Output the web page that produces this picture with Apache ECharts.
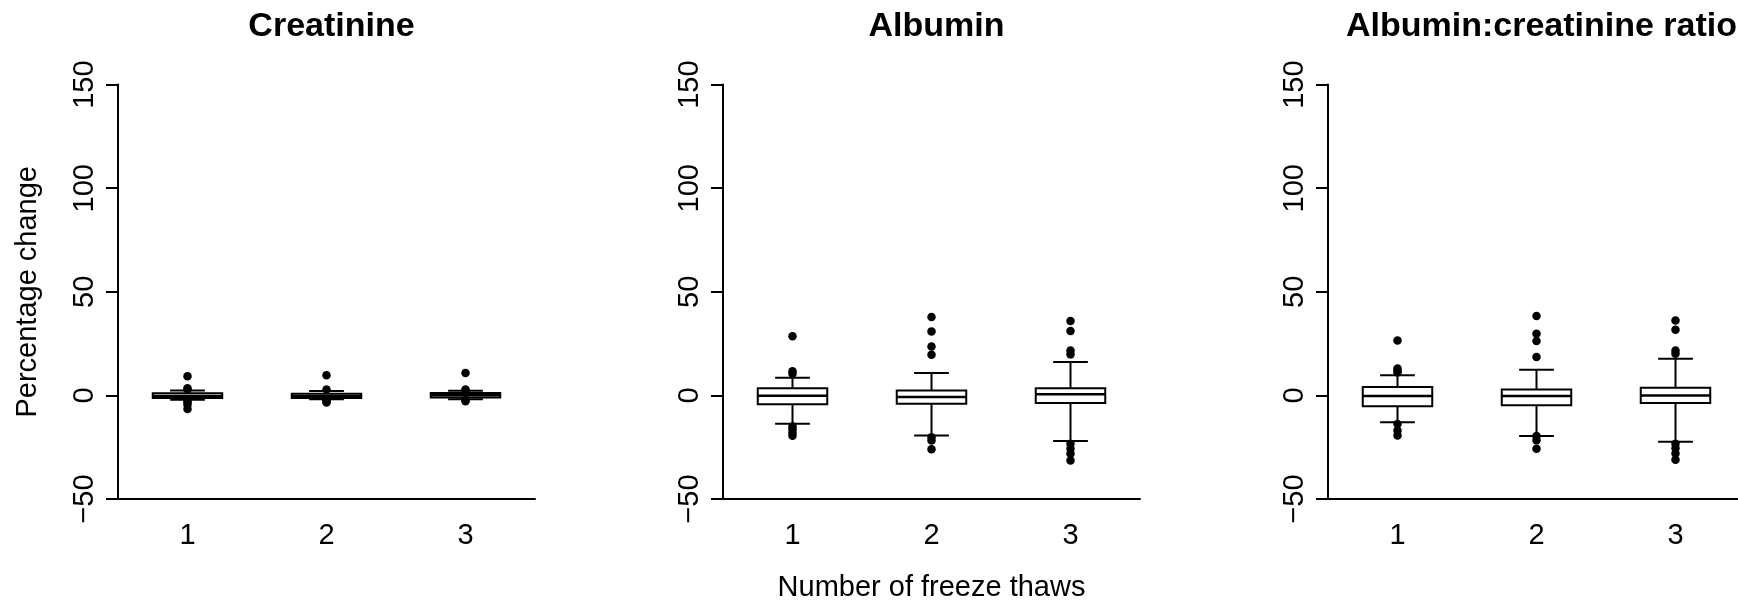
<!DOCTYPE html>
<html>
<head>
<meta charset="utf-8">
<script src="https://cdn.jsdelivr.net/npm/echarts@6/dist/echarts.min.js"></script>
<style>
  html, body { margin: 0; padding: 0; background: #fff; }
  #chart { width: 1738px; height: 602px; }
</style>
</head>
<body>
<div id="chart"></div>
<script>
// freeze-thaw categories and panel titles
const categories = ['1', '2', '3']
const panelTitles = ['Creatinine', 'Albumin', 'Albumin:creatinine ratio']
const yTicks = {min: -50, max: 150, interval: 50}

// box stats per thaw: [lower whisker, Q1, median, Q3, upper whisker]
const creatinineBoxes = [
  [-2.1, -1.2, -0.3, 1.0, 2.4],
  [-1.9, -1.2, -0.3, 0.8, 2.1],
  [-1.8, -1.0, 0.1, 1.1, 2.2]
]
const creatinineOutliers = [
  [9.2, 3.4, 2.8, -2.5, -3.4, -4.5, -6.6],
  [9.7, 2.8, -2.3, -2.8, -3.4],
  [10.8, 2.8, 2.5, -2.2, -2.8]
]

const albuminBoxes = [
  [-13.7, -4.3, -0.2, 3.5, 8.5],
  [-19.3, -4.0, -0.8, 2.4, 10.8],
  [-22.0, -3.7, 0.5, 3.4, 16.1]
]
const albuminOutliers = [
  [28.6, 11.7, 10.5, -15.0, -16.5, -18.0, -19.5],
  [37.8, 30.9, 23.6, 19.6, -20.2, -21.8, -26.0],
  [35.9, 31.1, 21.7, 19.8, -23.3, -25.7, -28.2, -31.4]
]

const acrBoxes = [
  [-13.0, -5.2, -0.3, 4.0, 9.7],
  [-19.6, -4.8, -0.3, 2.9, 12.4],
  [-22.4, -3.7, 0.0, 3.7, 17.7]
]
const acrOutliers = [
  [26.5, 13.0, 11.8, 11.0, -13.8, -16.9, -19.3],
  [38.3, 29.8, 26.2, 18.5, -19.6, -21.7, -25.7],
  [36.2, 31.7, 21.7, 20.1, -23.3, -25.5, -28.0, -31.0]
]

const panels = [
  {boxes: creatinineBoxes, outliers: creatinineOutliers},
  {boxes: albuminBoxes, outliers: albuminOutliers},
  {boxes: acrBoxes, outliers: acrOutliers}
]

const FONT = 'Liberation Sans, Arial, Helvetica, sans-serif'
const LW = 2
const gridLefts = [118, 723, 1328]
const gridTop = 84.6
const gridW = 417
const gridH = 414.4

// R-style box: half-band box, quarter-band staples
const renderBox = (params, api) => {
  const x = api.value(0)
  const low = api.coord([x, api.value(1)])
  const q1 = api.coord([x, api.value(2)])
  const med = api.coord([x, api.value(3)])
  const q3 = api.coord([x, api.value(4)])
  const high = api.coord([x, api.value(5)])
  const band = api.size([1, 0])[0]
  const hw = band * 0.25
  const sw = band * 0.125
  const cx = low[0]
  const line = {stroke: '#000', lineWidth: LW}
  return {
    type: 'group',
    children: [
      {type: 'line', shape: {x1: cx, y1: q3[1], x2: cx, y2: high[1]}, style: line},
      {type: 'line', shape: {x1: cx, y1: q1[1], x2: cx, y2: low[1]}, style: line},
      {type: 'line', shape: {x1: cx - sw, y1: high[1], x2: cx + sw, y2: high[1]}, style: line},
      {type: 'line', shape: {x1: cx - sw, y1: low[1], x2: cx + sw, y2: low[1]}, style: line},
      {
        type: 'rect',
        shape: {x: cx - hw, y: q3[1], width: hw * 2, height: q1[1] - q3[1]},
        style: {fill: '#fff', stroke: '#000', lineWidth: LW}
      },
      {type: 'line', shape: {x1: cx - hw, y1: med[1], x2: cx + hw, y2: med[1]}, style: {stroke: '#000', lineWidth: 2.5}}
    ]
  }
}

const grid = []
const xAxis = []
const yAxis = []
const series = []
const title = []

panels.forEach((p, i) => {
  grid.push({
    left: gridLefts[i],
    top: gridTop,
    width: gridW,
    height: gridH,
    containLabel: false,
    outerBoundsMode: 'none'
  })
  title.push({
    text: panelTitles[i],
    left: gridLefts[i] + gridW / 2,
    top: 5,
    textAlign: 'center',
    textStyle: {fontFamily: FONT, fontSize: 34, fontWeight: 'bold', color: '#000'}
  })
  xAxis.push({
    type: 'category',
    gridIndex: i,
    data: categories,
    boundaryGap: true,
    name: i === 1 ? 'Number of freeze thaws' : '',
    nameLocation: 'middle',
    nameGap: 74,
    nameTextStyle: {fontFamily: FONT, fontSize: 29, color: '#000'},
    axisLine: {onZero: false, lineStyle: {color: '#000', width: LW}},
    axisTick: {alignWithLabel: true, length: 12, lineStyle: {color: '#000', width: LW}},
    axisLabel: {fontFamily: FONT, fontSize: 29, color: '#000', margin: 22},
    splitLine: {show: false}
  })
  yAxis.push({
    type: 'value',
    gridIndex: i,
    min: yTicks.min,
    max: yTicks.max,
    interval: yTicks.interval,
    name: i === 0 ? 'Percentage change' : '',
    nameLocation: 'middle',
    nameGap: 76,
    nameTextStyle: {fontFamily: FONT, fontSize: 29, color: '#000'},
    axisLine: {show: true, onZero: false, lineStyle: {color: '#000', width: LW}},
    axisTick: {show: true, length: 12, lineStyle: {color: '#000', width: LW}},
    axisLabel: {
      fontFamily: FONT,
      fontSize: 29,
      color: '#000',
      rotate: 90,
      margin: 19,
      formatter: v => String(v).replace('-', '\u2212')
    },
    splitLine: {show: false}
  })
  series.push({
    type: 'custom',
    xAxisIndex: i,
    yAxisIndex: i,
    z: 2,
    renderItem: renderBox,
    encode: {x: 0, y: [1, 2, 3, 4, 5]},
    data: p.boxes.map((b, k) => [k, ...b])
  })
  const pts = []
  p.outliers.forEach((vals, k) => vals.forEach(v => pts.push([k, v])))
  series.push({
    type: 'scatter',
    xAxisIndex: i,
    yAxisIndex: i,
    z: 3,
    symbol: 'circle',
    symbolSize: 8.5,
    itemStyle: {color: '#000', opacity: 1},
    data: pts
  })
})

const chart = echarts.init(document.getElementById('chart'))
chart.setOption({
  animation: false,
  backgroundColor: '#fff',
  title,
  grid,
  xAxis,
  yAxis,
  series
})
</script>
</body>
</html>
